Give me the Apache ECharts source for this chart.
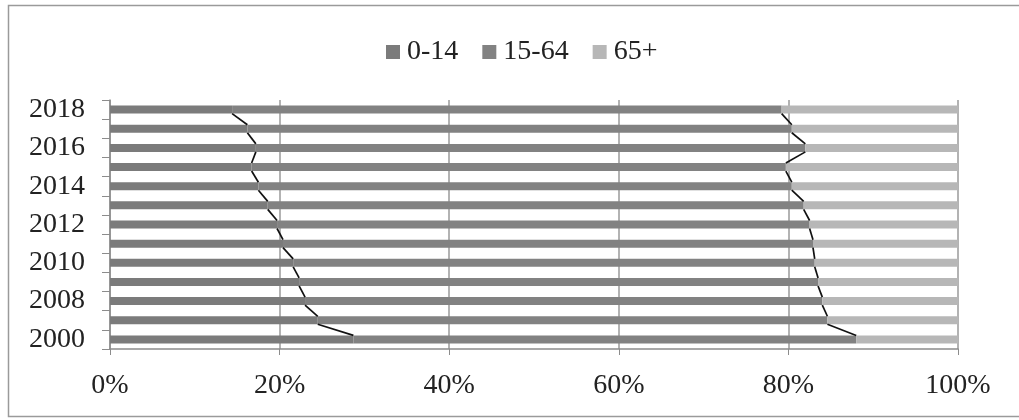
<!DOCTYPE html>
<html>
<head>
<meta charset="utf-8">
<script src="https://cdn.jsdelivr.net/npm/echarts@6/dist/echarts.min.js"></script>
<style>html,body{margin:0;padding:0;background:#fff;}#c{width:1019px;height:420px;}</style>
</head>
<body>
<div id="c"></div>
<script>
const years = ['2000','2007','2008','2009','2010','2011','2012','2013','2014','2015','2016','2017','2018'];
const age0_14 = [28.7, 24.5, 23.0, 22.3, 21.6, 20.4, 19.7, 18.6, 17.5, 16.7, 17.2, 16.2, 14.4];
const age15_64 = [59.3, 60.1, 61.0, 61.2, 61.5, 62.5, 62.8, 63.2, 62.9, 63.0, 64.8, 64.2, 64.8];
const age65 = [12.0, 15.4, 16.0, 16.5, 16.9, 17.1, 17.5, 18.2, 19.6, 20.3, 18.0, 19.6, 20.8];
const xTicks = [0, 20, 40, 60, 80, 100];

const BAR_W = 8;
const cum1 = age0_14.map(v => v);
const cum2 = age0_14.map((v, i) => v + age15_64[i]);
function seriesLineData(cum) {
  const d = [];
  for (let i = 0; i < cum.length - 1; i++) d.push([cum[i], i, cum[i + 1]]);
  return d;
}
function renderSeg(params, api) {
  const i = api.value(1);
  const a = api.coord([api.value(0), i]);
  const b = api.coord([api.value(2), i + 1]);
  const h = BAR_W / 2;
  return {
    type: 'line',
    shape: { x1: a[0], y1: a[1] - h, x2: b[0], y2: b[1] + h },
    style: { stroke: '#111', lineWidth: 1.7 }
  };
}
const font = 'Liberation Serif';
const chart = echarts.init(document.getElementById('c'), null, { renderer: 'canvas' });
chart.setOption({
  animation: false,
  backgroundColor: '#fff',
  graphic: [{
    type: 'rect', silent: true,
    shape: { x: 8.5, y: 5.5, width: 1020, height: 411 },
    style: { fill: 'none', stroke: '#9a9a9a', lineWidth: 1.5 }
  }],
  legend: {
    top: 33, left: 381,
    itemWidth: 14, itemHeight: 14, itemGap: 24,
    icon: 'rect',
    data: ['0-14', '15-64', '65+'],
    textStyle: { fontFamily: font, fontSize: 28, color: '#222', padding: [0, 0, 0, 2] }
  },
  grid: { left: 110, right: 61, top: 100, bottom: 71, containLabel: false },
  xAxis: {
    type: 'value', min: 0, max: 100, interval: 20,
    axisLabel: { formatter: '{value}%', fontFamily: font, fontSize: 28, color: '#222', margin: 23 },
    axisLine: { show: true, lineStyle: { color: '#8c8c8c', width: 1.5 } },
    axisTick: { show: true, length: 6, lineStyle: { color: '#8c8c8c' } },
    splitLine: { show: true, lineStyle: { color: '#9a9a9a', width: 1.5 } }
  },
  yAxis: {
    type: 'category', data: years,
    axisLabel: { interval: 1, fontFamily: font, fontSize: 28, color: '#222', margin: 25 },
    axisLine: { show: true, lineStyle: { color: '#8c8c8c', width: 1.5 } },
    axisTick: { show: true, interval: 0, length: 8, lineStyle: { color: '#8c8c8c' } }
  },
  series: [
    { name: '0-14', type: 'bar', stack: 'all', data: age0_14, barWidth: BAR_W, itemStyle: { color: '#7b7b7b' } },
    { name: '15-64', type: 'bar', stack: 'all', data: age15_64, barWidth: BAR_W, itemStyle: { color: '#828282' } },
    { name: '65+', type: 'bar', stack: 'all', data: age65, barWidth: BAR_W, itemStyle: { color: '#b7b7b7' } },
    { type: 'custom', coordinateSystem: 'cartesian2d', renderItem: renderSeg, data: seriesLineData(cum1), encode: { x: [0, 2], y: 1 }, z: 5, silent: true },
    { type: 'custom', coordinateSystem: 'cartesian2d', renderItem: renderSeg, data: seriesLineData(cum2), encode: { x: [0, 2], y: 1 }, z: 5, silent: true }
  ]
});
</script>
</body>
</html>
